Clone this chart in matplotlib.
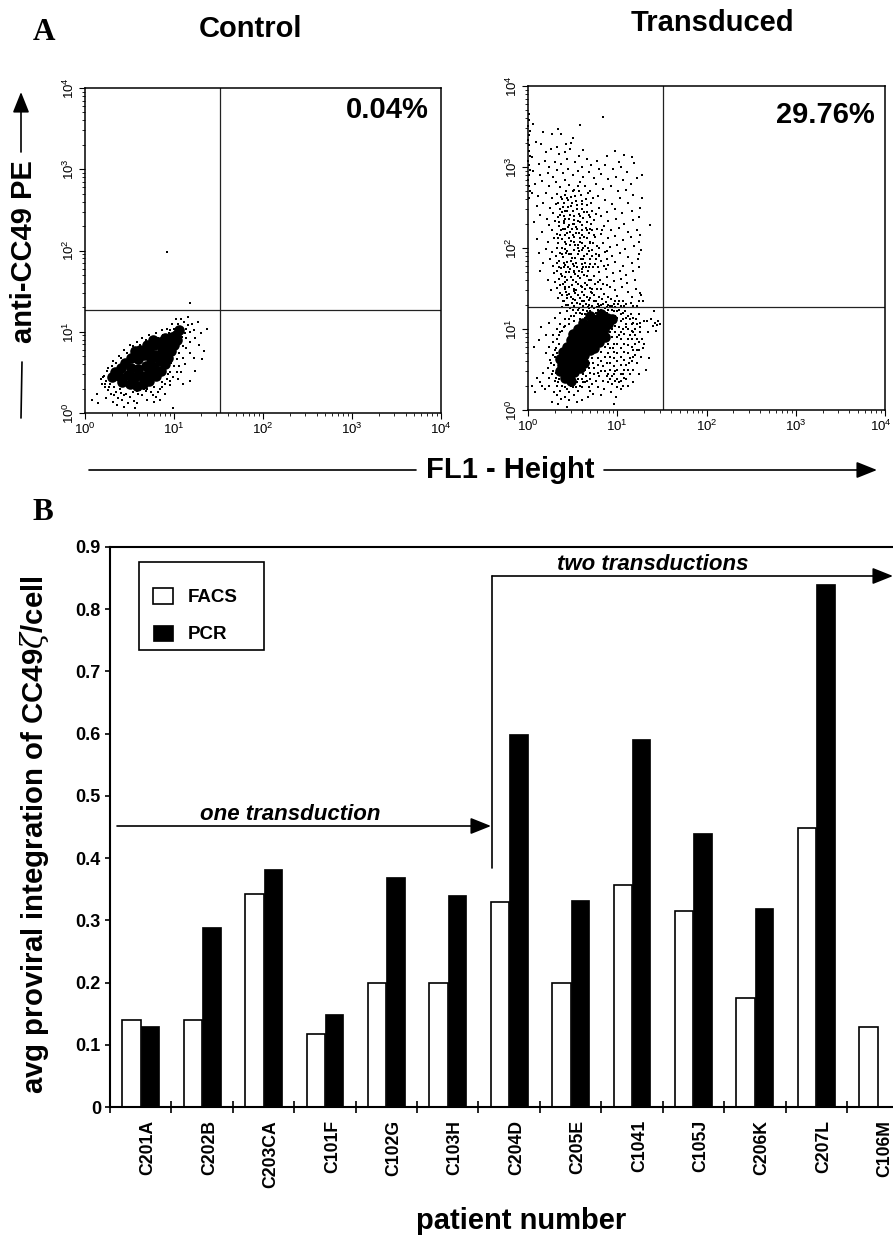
import numpy as np
import matplotlib
matplotlib.use('Agg')
import matplotlib.pyplot as plt
from matplotlib.patches import Rectangle
from matplotlib.transforms import ScaledTranslation

plt.rcParams['font.family'] = ['Liberation Sans', 'DejaVu Sans']
plt.rcParams['mathtext.fontset'] = 'dejavuserif'

# bar chart values
patients = ['C201A', 'C202B', 'C203CA', 'C101F', 'C102G', 'C103H', 'C204D',
            'C205E', 'C1041', 'C105J', 'C206K', 'C207L', 'C106M']
facs = [0.14, 0.14, 0.343, 0.117, 0.2, 0.2, 0.33, 0.2, 0.357, 0.315, 0.175, 0.448, 0.128]
pcr = [0.13, 0.29, 0.382, 0.15, 0.37, 0.34, 0.6, 0.332, 0.592, 0.44, 0.32, 0.84, 0]

# flow plots: gates and events, events are (FL1, PE) in 1/100 of a log decade
gate_fl1 = 32.9
gate_pe = 18.5

control_core = [
    (38,45),(42,38),(50,36),(58,33),(65,36),(72,40),(80,46),(85,52),(90,60),(93,68),(97,76),(100,84),(103,90),
    (40,55),(48,47),(56,44),(64,46),(72,50),(78,57),(84,64),(88,72),(92,80),(97,88),(102,96),(106,102),
    (45,62),(52,56),(60,54),(68,58),(74,66),(80,72),(86,80),(92,86),(98,94),
    (52,68),(60,66),(66,72),(72,78),(78,84),(84,88),(90,92),(56,76),(62,78),(70,84),(76,90),(34,50),(30,44),
]
control_dots = [
    (22,32),(24,40),(21,46),(19,36),(26,28),(29,24),(33,22),(37,18),(42,16),(46,24),(51,20),(55,15),(60,24),(64,22),
    (68,27),(74,26),(78,32),(84,30),(87,38),(92,42),(96,50),(100,58),(103,66),(106,74),(110,82),(113,92),(118,100),
    (116,108),(111,112),(105,110),(100,104),(94,98),(88,96),(82,92),(74,92),(68,90),(62,84),(54,82),(47,74),(41,68),
    (35,62),(30,58),(25,52),(18,42),(13,24),(8,16),(15,12),(24,18),(36,10),(44,8),(56,6),(70,16),(80,20),(58,12),
    (32,14),(40,25),(48,12),(124,92),(128,84),(134,76),(131,66),(122,68),(118,74),(112,60),(108,50),(104,42),(110,36),
    (118,40),(124,52),(96,34),(90,24),(84,16),(78,14),(99,6),(120,110),(127,112),(116,118),(122,102),(130,98),(137,104),
    (102,116),(95,102),(50,72),(88,60),(92,56),(98,70),(107,88),(112,98),(28,36),(33,32),(39,30),(66,30),(58,27),
    (118,136),(92,198),(99,44),(106,58),(110,68),(114,80),(118,88),(103,50),(96,40),(90,36),(86,32),(82,26),(76,22),
    (70,30),(62,28),(54,26),(44,22),(35,26),(27,32),(23,36),(20,44),(26,56),(32,64),(38,70),(44,78),(50,84),(58,88),
    (64,92),(72,96),(80,98),(86,102),(92,104),(98,110),(108,116),(113,104),(109,94),(101,76),(97,62),(93,48),
]

transduced_upper = [
    (1,366),(1,358),(0,351),(2,345),(1,339),(0,333),(1,327),(1,320),(2,314),(0,308),(1,302),(2,296),(1,290),(0,284),(1,277),(2,270),(1,262),
    (84,362),(58,352),(17,343),(6,353),(34,347),(27,341),(37,341),(50,336),(9,331),(15,328),(32,325),(43,328),(48,330),(62,321),(98,320),
    (20,318),(26,322),(35,316),(41,319),(47,322),(57,314),(66,310),(77,308),(88,313),(102,306),(108,315),(116,312),(5,312),(12,304),(19,308),
    (24,300),(30,306),(37,304),(44,310),(53,306),(60,300),(71,303),(79,298),(86,302),(95,297),(104,300),(111,294),(119,305),(128,290),
    (6,295),(13,290),(22,293),(28,288),(33,296),(39,292),(45,298),(50,290),(56,295),(62,288),(68,294),(74,287),(82,291),(90,285),(99,288),(107,284),(115,279),(122,287),
    (8,279),(16,283),(24,277),(31,281),(36,275),(41,284),(46,278),(52,272),(58,281),(64,276),(70,270),(76,279),(84,273),(93,276),(101,270),(110,272),(118,266),(128,262),
    (4,268),(11,264),(20,268),(27,262),(33,267),(38,260),(43,270),(48,263),(54,258),(59,266),(65,261),(71,256),(78,264),(86,259),(94,254),(103,262),(112,256),(125,250),
    (10,252),(17,256),(25,250),(31,254),(36,248),(40,256),(45,251),(50,246),(55,253),(60,248),(66,253),(72,246),(80,250),(88,245),(97,248),(105,243),(116,246),(124,238),
    (14,241),(21,236),(28,243),(34,238),(38,244),(42,236),(47,241),(52,235),(57,242),(62,237),(68,241),(74,234),(82,239),(90,233),(99,236),(108,230),(118,234),(137,228),
    (7,232),(24,229),(30,233),(35,227),(40,231),(45,226),(50,230),(55,224),(60,229),(65,225),(71,230),(77,223),(85,227),(93,222),(102,225),(112,220),(122,222),(126,216),
    (16,220),(27,222),(33,217),(37,222),(42,216),(47,220),(52,214),(57,219),(63,214),(68,219),(75,213),(82,217),(90,212),(98,215),(106,210),(115,213),(124,208),
    (10,211),(22,208),(29,212),(34,206),(38,211),(43,205),(48,209),(53,204),(58,208),(64,203),(70,208),(77,202),(84,206),(92,201),(100,204),(109,199),(119,202),(127,198),
    (20,199),(27,195),(32,200),(36,194),(41,199),(46,193),(51,198),(56,192),(61,197),(66,192),(72,197),(79,191),(86,195),(94,190),(103,194),(112,189),(124,192),
    (12,194),(25,187),(31,190),(35,184),(39,189),(44,183),(49,188),(54,182),(59,187),(64,181),(69,186),(75,180),(82,184),(90,179),(98,183),(106,178),(116,181),(123,186),
    (17,182),(28,178),(33,181),(37,175),(42,179),(47,174),(52,178),(57,172),(62,177),(67,171),(73,176),(80,170),(87,174),(95,169),(103,172),(110,167),(118,171),(124,176),
    (14,172),(29,169),(33,172),(38,166),(43,170),(48,164),(53,168),(58,163),(63,167),(68,161),(74,166),(81,160),(88,164),(96,159),(104,162),(111,157),(120,160),
    (22,160),(30,158),(35,162),(39,156),(44,160),(49,154),(54,158),(59,153),(64,157),(69,151),(75,155),(82,150),(89,154),(97,148),(105,152),(112,146),(121,150),
    (26,148),(32,151),(36,145),(41,149),(46,143),(51,147),(56,142),(61,146),(66,140),(72,144),(79,139),(85,143),(93,137),(100,141),(107,135),(116,140),(125,145),(124,134),
    (34,138),(39,134),(44,138),(49,132),(53,136),(58,131),(63,135),(68,130),(74,134),(80,129),(87,133),(94,128),(101,131),(108,128),(115,132),(122,128),(129,135),(127,142),
    (38,127),(43,130),(47,126),(52,129),(57,126),(62,128),(67,127),(72,129),(77,127),(82,130),(88,127),(92,129),(98,127),(104,129),(44,142),(54,148),(64,150),(74,142),
    (40,176),(48,184),(56,200),(66,222),(46,228),(52,240),(42,246),(48,252),(60,258),(44,262),(56,276),(40,240),(50,216),(60,216),(72,222),(44,196),(52,170),(62,186),
    (70,206),(76,192),(58,232),(66,244),(38,200),(34,212),(42,224),(54,226),(46,212),(62,200),(68,176),(78,158),(60,174),(50,160),(42,152),(72,150),(80,190),(88,186),
    (138,112),(141,122),(133,110),(142,108),(144,105),(146,110),(148,106),
]
transduced_upper_dense = [
    (37,263),(41,266),(45,259),(50,270),(53,264),(57,270),(61,254),(67,268),(73,262),(34,255),(39,251),(44,246),(49,255),(55,248),(58,240),(63,245),(69,238),(76,242),
    (36,241),(40,233),(46,236),(51,230),(56,233),(60,222),(66,232),(70,224),(74,216),(83,222),(35,232),(39,224),(44,218),(49,224),(54,218),(58,212),(66,212),(73,206),
    (36,216),(41,208),(47,204),(51,208),(56,204),(61,206),(67,200),(72,190),(80,200),(88,196),(38,192),(43,194),(48,192),(53,188),(57,196),(63,190),(68,196),(76,186),
    (35,176),(40,182),(45,177),(50,180),(55,176),(60,180),(65,176),(70,180),(78,176),(85,178),(37,168),(42,164),(46,170),(51,172),(56,166),(61,170),(66,166),(71,160),
    (36,154),(41,158),(46,152),(51,150),(56,156),(61,152),(66,154),(71,146),(77,150),(84,156),(92,152),(38,142),(43,146),(48,140),(53,144),(58,138),(63,142),(68,136),
    (76,134),(83,137),(90,140),(97,134),(40,135),(45,130),(50,137),(55,132),(60,134),(65,131),(70,138),(78,131),(84,131),(90,130),(96,131),(102,134),(110,131),(118,129),
]
transduced_core = [
    (38,55),(42,48),(47,44),(52,47),(58,52),(63,58),(36,63),(41,60),(46,56),(52,58),(57,62),(63,68),(69,74),
    (39,72),(44,68),(50,66),(55,72),(61,78),(67,83),(73,88),(79,94),(85,100),(90,106),(94,112),
    (44,78),(50,76),(55,82),(60,88),(66,94),(72,98),(78,104),(83,110),(88,114),(48,86),(54,92),(60,98),(66,104),
    (72,108),(78,112),(82,118),(70,116),(62,108),(56,100),(50,94),(36,48),(42,40),(48,36),(74,76),(80,84),(86,90),
]
transduced_lower = [
    (25,62),(22,52),(20,70),(24,78),(28,84),(27,44),(23,40),(30,36),(33,30),(36,24),(42,28),(46,22),(50,28),(55,34),(60,38),(65,42),
    (70,46),(74,52),(78,56),(82,60),(86,66),(90,70),(95,76),(100,82),(104,88),(108,94),(112,100),(117,106),(121,112),(115,118),(109,122),
    (102,124),(96,122),(90,124),(84,122),(78,124),(72,120),(66,122),(60,118),(54,120),(48,116),(42,112),(36,106),(32,100),(28,92),(36,96),
    (40,102),(46,106),(52,110),(58,112),(64,114),(76,120),(88,120),(98,116),(104,110),(110,106),(116,98),(120,92),(124,84),(122,74),(118,66),
    (113,58),(108,50),(104,44),(100,38),(96,44),(92,50),(88,42),(84,36),(80,42),(76,36),(72,32),(68,28),(64,34),(60,28),(56,24),(52,18),
    (48,30),(44,34),(40,36),(35,38),(31,46),(29,56),(33,70),(31,76),(35,82),(30,66),(92,58),(96,64),(100,70),(104,76),(108,82),(112,88),
    (116,78),(112,70),(108,62),(104,56),(100,50),(96,54),(90,82),(94,90),(98,96),(102,102),(106,112),(94,100),(88,92),(84,86),(80,80),(76,72),
    (72,64),(68,58),(64,50),(82,72),(86,78),(92,96),(114,112),(120,100),(126,96),(128,88),(125,108),(129,76),(127,66),(122,58),(118,50),(114,44),
    (110,38),(106,30),(100,28),(94,32),(90,34),(85,26),(78,28),(70,24),(10,40),(14,34),(5,30),(8,22),(16,30),(19,26),(17,46),(24,30),(29,22),
    (33,18),(37,14),(42,16),(46,12),(27,10),(34,8),(44,4),(55,10),(60,12),(67,16),(73,20),(82,18),(93,22),(99,16),(96,8),(104,26),(112,30),
    (118,34),(124,44),(132,50),(136,64),(130,82),(134,96),(140,104),(143,98),(20,92),(12,86),(7,78),(15,102),(24,108),(30,114),(36,120),
    (44,122),(50,124),(56,124),(62,124),(68,126),(74,126),(80,122),(86,126),(94,124),(100,122),(106,120),(112,116),(118,114),(124,118),(130,110),
    (26,58),(28,48),(31,40),(34,34),(38,30),(44,26),(50,32),(56,38),(62,44),(68,52),(73,58),(78,64),(84,54),(88,58),(92,66),(96,72),
    (100,60),(104,66),(108,72),(112,80),(116,88),(120,82),(118,74),(114,64),(110,56),(106,44),(102,34),(98,48),(94,42),(90,44),(86,48),(82,48),
    (78,46),(74,44),(70,38),(66,36),(62,34),(58,30),(54,28),(30,74),(28,68),(32,88),(35,92),(38,98),(42,104),(46,112),(52,116),(58,120),
    (64,118),(70,122),(76,116),(82,124),(90,116),(96,110),(100,114),(104,118),(110,114),(118,108),(122,106),(126,102),(98,104),(102,92),(106,100),
    (92,76),(96,82),(100,90),(104,96),(110,102),(114,92),(118,96),(122,88),(124,74),(120,68),(116,60),(112,50),(108,40),(104,36),(98,36),(92,38),
]


def flow_panel(ax, core, dots):
    ax.set_xscale('log')
    ax.set_yscale('log')
    ax.set_xlim(1, 1e4)
    ax.set_ylim(1, 1e4)
    core = np.array(core) / 100
    dots = np.array(dots) / 100
    ax.scatter(10**core[:, 0], 10**core[:, 1], s=58, c='k', marker='o', linewidths=0, clip_on=False)
    ax.scatter(10**dots[:, 0], 10**dots[:, 1], s=4.6, c='k', marker='s', linewidths=0, clip_on=False)
    ax.axvline(gate_fl1, color='#222222', lw=0.9)
    ax.axhline(gate_pe, color='#222222', lw=0.9)
    for s in ax.spines.values():
        s.set_linewidth(1.1)
    ax.set_xticks([1, 10, 100, 1000, 10000])
    ax.set_yticks([1, 10, 100, 1000, 10000])
    labels = [r'$\mathregular{10^{%d}}$' % i for i in range(5)]
    ax.set_xticklabels(labels, fontsize=9.5)
    ax.set_yticklabels(labels, fontsize=9.5, rotation=90, va='center')
    ax.tick_params(which='major', length=4, width=0.8, pad=2)
    ax.tick_params(which='minor', length=2.5, width=0.6)


W, H = 893, 1235
fig = plt.figure(figsize=(W / 100, H / 100), dpi=100)

ax1 = fig.add_axes([85 / W, 1 - 413 / H, 356 / W, 325 / H])
flow_panel(ax1, control_core, control_dots)
ax2 = fig.add_axes([528 / W, 1 - 410 / H, 357 / W, 324 / H])
flow_panel(ax2, transduced_core, transduced_upper + transduced_upper_dense + transduced_lower)
# last label of this panel sits hard against the picture edge
last = ax2.get_xticklabels()[-1]
last.set_transform(last.get_transform() + ScaledTranslation(-4 / 100, 0, fig.dpi_scale_trans))

# bars
ax3 = fig.add_axes([110 / W, 1 - 1107 / H, (W - 110) / W, 560 / H])
x = np.arange(len(patients))
ax3.bar(x + 0.35, facs, 0.3, color='white', edgecolor='k', lw=1.2, label='FACS')
ax3.bar(x + 0.65, pcr, 0.3, color='k', edgecolor='k', lw=0.5, label='PCR')
ax3.set_xlim(0, 12.75)
ax3.set_ylim(0, 0.9)
ax3.spines['right'].set_visible(False)
for s in ['left', 'top', 'bottom']:
    ax3.spines[s].set_linewidth(1.5)
ax3.set_yticks(np.arange(0, 1.0, 0.1))
ax3.set_yticklabels(['0', '0.1', '0.2', '0.3', '0.4', '0.5', '0.6', '0.7', '0.8', '0.9'],
                    fontsize=13, fontweight='bold')
ax3.tick_params(axis='y', length=3.5, width=1.2, pad=3)
ax3.set_xticks(np.arange(0, 13))
ax3.set_xticklabels([])
ax3.tick_params(axis='x', which='major', direction='inout', length=8, width=1.2)
ax3.set_xticks(x + 0.62, minor=True)
ax3.set_xticklabels(patients, minor=True, rotation=90, fontsize=12.7, fontweight='bold', va='top', ha='center')
ax3.tick_params(axis='x', which='minor', length=0, pad=9.5)

ax3.legend(loc='upper left', bbox_to_anchor=(43 / 783, 1 - 41 / 560), frameon=False,
           prop={'size': 13.5, 'weight': 'bold'}, handlelength=1.05, handleheight=0.9,
           handletextpad=0.8, labelspacing=1.0, borderpad=0, borderaxespad=0)

# overlay in picture pixels for panel text and arrows
top = fig.add_axes([0, 0, 1, 1], zorder=5)
top.set_xlim(0, W)
top.set_ylim(H, 0)
top.axis('off')
top.patch.set_alpha(0)
top.add_patch(Rectangle((139, 562), 125, 88, fill=False, ec='k', lw=1.2))


def arrow(x0, y0, x1, y1, head=True):
    top.annotate('', xy=(x1, y1), xytext=(x0, y0), annotation_clip=False,
                 arrowprops=dict(arrowstyle='-|>,head_length=0.9,head_width=0.36' if head else '-',
                                 color='k', lw=1.2, shrinkA=0, shrinkB=0, mutation_scale=14))


serif = ['Liberation Serif', 'DejaVu Serif']
top.text(44, 32, 'A', family=serif, fontsize=22.5, fontweight='bold', ha='center', va='center')
top.text(43, 513, 'B', family=serif, fontsize=22.5, fontweight='bold', ha='center', va='center')
top.text(251, 29, 'Control', fontsize=21, fontweight='bold', ha='center', va='center')
top.text(712, 23, 'Transduced', fontsize=21, fontweight='bold', ha='center', va='center')
top.text(429, 110, '0.04%', fontsize=21, fontweight='bold', ha='right', va='center')
top.text(875, 115, '29.76%', fontsize=21, fontweight='bold', ha='right', va='center')
top.text(510, 470, 'FL1 - Height', fontsize=21, fontweight='bold', ha='center', va='center')
top.text(24, 252, 'anti-CC49 PE', fontsize=21, fontweight='bold', ha='center', va='center', rotation=90)
top.text(521, 1221, 'patient number', fontsize=21, fontweight='bold', ha='center', va='center')
top.text(35, 835, r'avg proviral integration of CC49$\zeta$/cell', fontsize=21.2, fontweight='bold',
         ha='center', va='center', rotation=90)
top.text(290, 815, 'one transduction', fontsize=16, fontweight='bold', style='italic', ha='center', va='center')
top.text(653, 564, 'two transductions', fontsize=16, fontweight='bold', style='italic', ha='center', va='center')

arrow(21, 152, 21, 92)
arrow(21, 418, 22, 362, head=False)
arrow(89, 470, 416, 470, head=False)
arrow(604, 470, 877, 470)
arrow(117, 826, 491, 826)
arrow(492, 576, 893, 576)
arrow(492, 868, 492, 576, head=False)

fig.savefig('out.png', dpi=100)
